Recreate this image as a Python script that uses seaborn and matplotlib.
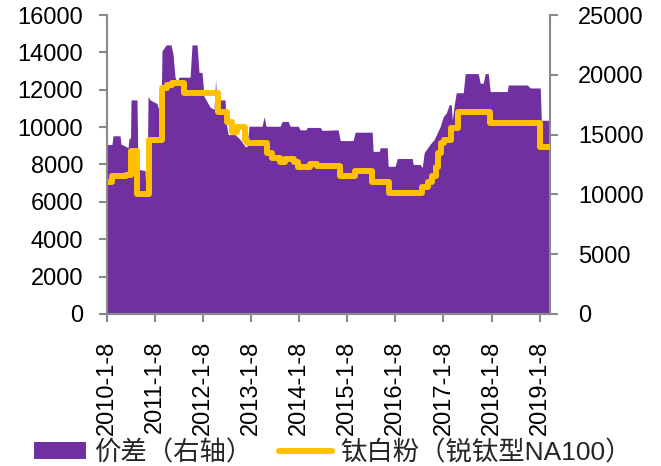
import matplotlib
matplotlib.use("Agg")
import matplotlib.pyplot as plt
from matplotlib.patches import Patch
from matplotlib.lines import Line2D
import seaborn as sns
import pandas as pd

# ---- data ----
price_dates = [
    "2010-01-08", "2010-02-17", "2010-06-04", "2010-07-12", "2010-08-26",
    "2010-11-25", "2011-03-04", "2011-04-11", "2011-05-19", "2011-08-18",
    "2012-05-03", "2012-07-10", "2012-08-17", "2012-09-24", "2012-11-24",
    "2012-12-09", "2013-05-10", "2013-06-17", "2013-08-17", "2013-09-24",
    "2013-12-01", "2014-01-01", "2014-04-02", "2014-05-25", "2014-11-16",
    "2015-03-10", "2015-07-17", "2015-11-23", "2016-07-31", "2016-09-14",
    "2016-10-15", "2016-11-14", "2016-11-29", "2016-12-22", "2017-01-14",
    "2017-03-08", "2017-04-30", "2017-12-29", "2019-01-08", "2019-03-22",
]
price_values = [
    7040, 7360, 7450, 8700, 6400,
    9330, 12100, 12270, 12370, 11840,
    10830, 10300, 9760, 10030, 9300,
    9170, 8640, 8370, 8160, 8300,
    8160, 7840, 8000, 7900, 7360,
    7630, 7040, 6500, 6770, 7040,
    7360, 7840, 8640, 9170, 9330,
    9970, 10830, 10240, 8960, 8960,
]

spread_dates = [
    "2010-01-08", "2010-02-17", "2010-02-25", "2010-04-19", "2010-04-27",
    "2010-06-04", "2010-06-19", "2010-06-27", "2010-07-08", "2010-07-12",
    "2010-08-26", "2010-09-03", "2010-10-26", "2010-11-03", "2010-11-10",
    "2010-11-18", "2010-12-03", "2011-01-25", "2011-02-02", "2011-02-25",
    "2011-03-04", "2011-04-04", "2011-05-12", "2011-05-27", "2011-06-11",
    "2011-06-26", "2011-07-11", "2011-10-03", "2011-10-18", "2011-11-25",
    "2011-12-10", "2012-01-02", "2012-01-17", "2012-03-03", "2012-04-02",
    "2012-04-14", "2012-04-25", "2012-05-18", "2012-06-25", "2012-07-03",
    "2012-07-18", "2012-09-09", "2012-10-17", "2012-11-24", "2012-12-09",
    "2012-12-24", "2013-04-02", "2013-04-17", "2013-05-02", "2013-08-17",
    "2013-09-01", "2013-10-17", "2013-11-01", "2014-01-01", "2014-01-16",
    "2014-03-02", "2014-03-10", "2014-06-17", "2014-07-02", "2014-10-31",
    "2014-11-16", "2015-02-22", "2015-03-10", "2015-07-17", "2015-07-24",
    "2015-09-08", "2015-09-16", "2015-11-08", "2015-11-15", "2016-01-07",
    "2016-01-23", "2016-05-16", "2016-05-23", "2016-07-15", "2016-07-31",
    "2016-08-15", "2016-09-29", "2016-10-30", "2016-12-15", "2017-01-06",
    "2017-01-29", "2017-02-21", "2017-03-08", "2017-03-16", "2017-03-31",
    "2017-04-15", "2017-06-07", "2017-06-22", "2017-09-29", "2017-10-14",
    "2017-11-06", "2017-11-21", "2017-12-14", "2017-12-29", "2018-05-07",
    "2018-05-15", "2018-10-06", "2018-10-29", "2019-01-13", "2019-01-21",
    "2019-03-22",
]
spread_values = [
    14170, 14170, 14900, 14900, 14200,
    14000, 13900, 14700, 14700, 17900,
    17900, 12100, 12000, 10000, 10000,
    18200, 17900, 17600, 17250, 17250,
    22000, 22500, 22500, 21700, 19800,
    19300, 19800, 19800, 22500, 22500,
    20200, 20200, 18200, 17300, 17100,
    19600, 17100, 17900, 17900, 16000,
    15000, 15000, 14600, 14000, 14000,
    15700, 15700, 16500, 15700, 15700,
    16100, 16100, 15700, 15700, 15400,
    15400, 15600, 15600, 15350, 15400,
    14500, 14500, 15200, 15200, 13600,
    13600, 13900, 13900, 12350, 12350,
    13000, 13000, 12500, 12500, 12250,
    13500, 14200, 14600, 15700, 16500,
    16800, 17500, 17500, 16200, 17500,
    18500, 18500, 20100, 20100, 19300,
    19300, 20100, 20100, 18600, 18600,
    19150, 19150, 18900, 18900, 16200,
    16200,
]

tick_dates = ["2010-01-08", "2011-01-08", "2012-01-08", "2013-01-08", "2014-01-08",
              "2015-01-08", "2016-01-08", "2017-01-08", "2018-01-08", "2019-01-08"]
tick_labels = ["2010-1-8", "2011-1-8", "2012-1-8", "2013-1-8", "2014-1-8",
               "2015-1-8", "2016-1-8", "2017-1-8", "2018-1-8", "2019-1-8"]
left_ticks = [0, 2000, 4000, 6000, 8000, 10000, 12000, 14000, 16000]
right_ticks = [0, 5000, 10000, 15000, 20000, 25000]
series_labels = ["价差（右轴）", "钛白粉（锐钛型NA100）"]

PURPLE = "#7030A0"
YELLOW = "#FFC000"
GRAY = "#898989"

sns.set_theme(style="ticks")
plt.rcParams["font.family"] = ["Liberation Sans", "Noto Sans CJK SC"]

price_df = pd.DataFrame({"date": pd.to_datetime(price_dates), "price": price_values})
spread_df = pd.DataFrame({"date": pd.to_datetime(spread_dates), "spread": spread_values})

fig = plt.figure(figsize=(6.61, 4.66), dpi=100)
ax = fig.add_axes([0.1614, 0.3262, 0.6707, 0.6416])
ax2 = ax.twinx()

ax2.fill_between(spread_df["date"], spread_df["spread"], 0, color=PURPLE, lw=0)
sns.lineplot(data=price_df, x="date", y="price", ax=ax, color=YELLOW, lw=4.3,
             drawstyle="steps-post", estimator=None, legend=False)

ax.set_zorder(ax2.get_zorder() + 1)
ax.patch.set_visible(False)

ax.set_ylim(0, 16000)
ax.set_yticks(left_ticks)
ax.set_yticklabels([str(v) for v in left_ticks])
ax2.set_ylim(0, 25000)
ax2.set_yticks(right_ticks)
ax2.set_yticklabels([str(v) for v in right_ticks])
ax.set_xlim(pd.Timestamp("2010-01-08"), pd.Timestamp("2019-03-28"))
ax.set_xticks(pd.to_datetime(tick_dates))
ax.set_xticklabels(tick_labels, rotation=90)
ax.set_xlabel("")
ax.set_ylabel("")

for a in (ax, ax2):
    a.spines["top"].set_visible(False)
    for s in ("left", "right", "bottom"):
        a.spines[s].set_color(GRAY)
        a.spines[s].set_linewidth(1.5)
ax.spines["right"].set_visible(False)
ax2.spines["left"].set_visible(False)

ax.tick_params(axis="y", direction="out", length=6, width=1.5, color=GRAY,
               labelsize=17, pad=11, labelcolor="black")
ax.tick_params(axis="x", direction="out", length=6, width=1.5, color=GRAY,
               labelsize=17, pad=13, labelcolor="black")
ax2.tick_params(axis="y", direction="out", length=6, width=1.5, color=GRAY,
                labelsize=17, pad=14, labelcolor="black")

handles = [Patch(facecolor=PURPLE, edgecolor="none"),
           Line2D([0], [0], color=YELLOW, lw=4.3, solid_capstyle="round")]
fig.legend(handles, series_labels, loc="center", bbox_to_anchor=(0.503, 0.029),
           ncol=2, frameon=False, fontsize=19, handlelength=2.0, handleheight=0.6,
           handletextpad=0.3, columnspacing=1.0, borderpad=0, borderaxespad=0)

fig.savefig("out.png", dpi=100)
